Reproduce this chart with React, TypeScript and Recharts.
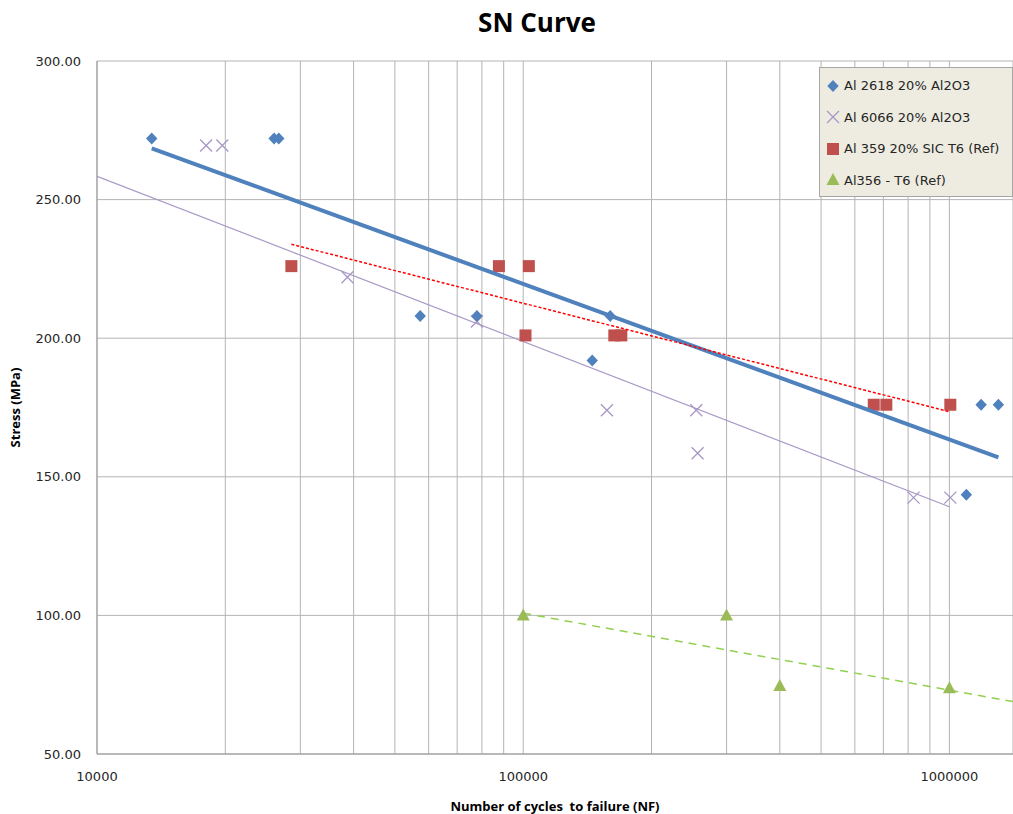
import React from 'react';
import { ScatterChart, Scatter, XAxis, YAxis, CartesianGrid } from 'recharts';

// Al 2618 20% Al2O3 (blue diamonds)
const al2618Cycles = [13440, 26030, 26700, 57320, 77870, 145200, 160000, 1096000, 1187000, 1303000];
const al2618Stress = [272, 272, 272, 208, 208, 192, 208, 143.5, 176, 176];
const al2618TrendCycles = [13440, 1303000];
const al2618TrendStress = [268.5, 157];

// Al 6066 20% Al2O3 (crosses)
const al6066Cycles = [18030, 19680, 38690, 77870, 157200, 254700, 256600, 824000, 1005000];
const al6066Stress = [269.5, 269.5, 222, 206, 174, 174, 158.5, 142.5, 142.5];
const al6066TrendCycles = [10000, 1000000];
const al6066TrendStress = [258.4, 139.2];

// Al 359 20% SIC T6 (Ref) (red squares)
const al359Cycles = [28580, 87700, 101250, 103100, 163600, 169900, 664500, 711300, 1005000];
const al359Stress = [226, 226, 201, 226, 201, 201, 176, 176, 176];
const al359TrendCycles = [28580, 1000000];
const al359TrendStress = [233.9, 173.5];

// Al356 - T6 (Ref) (green triangles)
const al356Cycles = [100000, 300000, 400000, 1000000];
const al356Stress = [100, 100, 74.5, 73.7];
const al356TrendCycles = [100000, 1410000];
const al356TrendStress = [100.8, 68.9];

const cycleTicks = [
  10000, 20000, 30000, 40000, 50000, 60000, 70000, 80000, 90000,
  100000, 200000, 300000, 400000, 500000, 600000, 700000, 800000, 900000,
  1000000,
];
const decadeLabels = [10000, 100000, 1000000];
const stressTicks = [50, 100, 150, 200, 250, 300];

const toPoints = (xs: number[], ys: number[]) => xs.map((x, i) => ({ x, y: ys[i] }));

const BLUE = '#4F81BD';
const PURPLE = '#A897C6';
const RED = '#C0504D';
const GREEN = '#9BBB59';

const diamond = (props: any) => {
  const { cx, cy } = props;
  if (cx == null || cy == null) return <g />;
  return <path d={`M${cx},${cy - 6} L${cx + 5.7},${cy} L${cx},${cy + 6} L${cx - 5.7},${cy} Z`} fill={BLUE} />;
};

const cross = (props: any) => {
  const { cx, cy } = props;
  if (cx == null || cy == null) return <g />;
  const r = 6;
  return (
    <path
      d={`M${cx - r},${cy - r} L${cx + r},${cy + r} M${cx - r},${cy + r} L${cx + r},${cy - r}`}
      stroke={PURPLE}
      strokeWidth={1.3}
      fill="none"
    />
  );
};

const square = (props: any) => {
  const { cx, cy } = props;
  if (cx == null || cy == null) return <g />;
  return <rect x={cx - 6} y={cy - 6} width={12} height={12} fill={RED} />;
};

const triangle = (props: any) => {
  const { cx, cy } = props;
  if (cx == null || cy == null) return <g />;
  return <path d={`M${cx},${cy - 7} L${cx + 6.5},${cy + 5} L${cx - 6.5},${cy + 5} Z`} fill={GREEN} />;
};

const noDot = () => <g />;

const legendItems = [
  { name: 'Al 2618 20% Al2O3', kind: 'diamond' },
  { name: 'Al 6066 20% Al2O3', kind: 'cross' },
  { name: 'Al 359 20% SIC T6 (Ref)', kind: 'square' },
  { name: 'Al356 - T6 (Ref)', kind: 'triangle' },
];

function LegendIcon({ kind }: { kind: string }) {
  return (
    <svg width={14} height={14} style={{ display: 'block', flex: 'none' }}>
      {kind === 'diamond' && diamond({ cx: 7, cy: 7 })}
      {kind === 'cross' && cross({ cx: 7, cy: 7 })}
      {kind === 'square' && square({ cx: 7, cy: 7 })}
      {kind === 'triangle' && triangle({ cx: 7, cy: 7 })}
    </svg>
  );
}

export default function App() {
  const tickFont = { fontSize: 13, fill: '#262626', fontFamily: 'DejaVu Sans' };
  const titleFont = { fontFamily: 'Open Sans', fontWeight: 700, fontSize: 13, fill: '#000' };
  return (
    <div style={{ position: 'absolute', left: 0, top: 0, width: 1013, height: 814, background: '#fff', overflow: 'hidden' }}>
      <div
        style={{
          position: 'absolute',
          left: 417,
          top: 4,
          width: 240,
          textAlign: 'center',
          fontFamily: 'Open Sans',
          fontWeight: 700,
          fontSize: 26,
          lineHeight: '36px',
          color: '#000',
        }}
      >
        SN Curve
      </div>
      <ScatterChart width={1013} height={814} margin={{ top: 61, right: 0, bottom: 0, left: 0 }}>
        <CartesianGrid stroke="#B4B4B4" strokeWidth={1} />
        <XAxis
          type="number"
          dataKey="x"
          scale="log"
          domain={[10000, 1410000]}
          allowDataOverflow
          ticks={cycleTicks}
          interval={0}
          tickFormatter={(v: number) => (decadeLabels.includes(v) ? String(v) : '')}
          height={60}
          tickLine={false}
          tickMargin={12}
          axisLine={{ stroke: '#999' }}
          tick={tickFont}
          label={{
            value: 'Number of cycles\u00A0 to failure (NF)',
            position: 'insideBottom',
            offset: 3,
            style: titleFont,
          }}
        />
        <YAxis
          type="number"
          dataKey="y"
          domain={[50, 300]}
          ticks={stressTicks}
          interval={0}
          tickFormatter={(v: number) => v.toFixed(2)}
          width={97}
          tickLine={false}
          tickMargin={10}
          axisLine={{ stroke: '#999' }}
          tick={tickFont}
          label={{
            value: 'Stress (MPa)',
            angle: -90,
            position: 'insideLeft',
            offset: 15,
            style: { ...titleFont, textAnchor: 'middle' },
          }}
        />

        <Scatter
          data={toPoints(al6066TrendCycles, al6066TrendStress)}
          line={{ stroke: PURPLE, strokeWidth: 1.2 }}
          shape={noDot}
          legendType="none"
          isAnimationActive={false}
        />
        <Scatter
          data={toPoints(al356TrendCycles, al356TrendStress)}
          line={{ stroke: '#92D050', strokeWidth: 1.5, strokeDasharray: '8 6' }}
          shape={noDot}
          legendType="none"
          isAnimationActive={false}
        />

        <Scatter data={toPoints(al6066Cycles, al6066Stress)} shape={cross} isAnimationActive={false} />
        <Scatter data={toPoints(al359Cycles, al359Stress)} shape={square} isAnimationActive={false} />
        <Scatter data={toPoints(al356Cycles, al356Stress)} shape={triangle} isAnimationActive={false} />
        <Scatter data={toPoints(al2618Cycles, al2618Stress)} shape={diamond} isAnimationActive={false} />

        <Scatter
          data={toPoints(al2618TrendCycles, al2618TrendStress)}
          line={{ stroke: BLUE, strokeWidth: 4 }}
          shape={noDot}
          legendType="none"
          isAnimationActive={false}
        />
        <Scatter
          data={toPoints(al359TrendCycles, al359TrendStress)}
          line={{ stroke: '#FF0000', strokeWidth: 1.5, strokeDasharray: '3 2' }}
          shape={noDot}
          legendType="none"
          isAnimationActive={false}
        />
      </ScatterChart>

      <div
        style={{
          position: 'absolute',
          left: 819,
          top: 67,
          width: 194,
          height: 130,
          background: '#EEECE1',
          border: '1px solid #A6A6A6',
          boxSizing: 'border-box',
          paddingTop: 2,
          fontFamily: 'DejaVu Sans',
          fontSize: 13,
          color: '#262626',
        }}
      >
        {legendItems.map((item) => (
          <div key={item.name} style={{ height: 31.5, display: 'flex', alignItems: 'center', paddingLeft: 6 }}>
            <LegendIcon kind={item.kind} />
            <span style={{ marginLeft: 4, whiteSpace: 'nowrap' }}>{item.name}</span>
          </div>
        ))}
      </div>
    </div>
  );
}
